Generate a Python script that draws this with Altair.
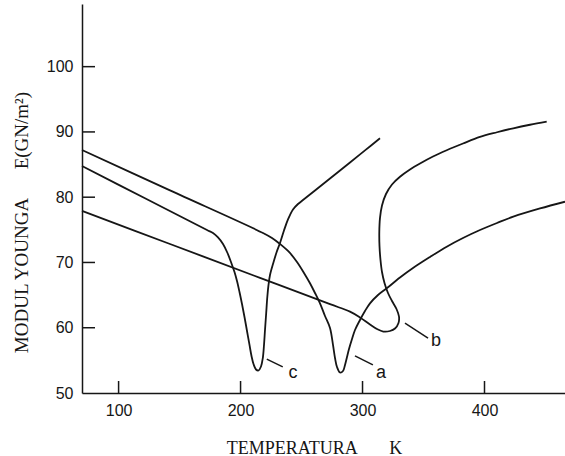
import altair as alt
import pandas as pd

# Young's modulus E (GN/m^2) against temperature (K) for three specimens
a_T = [70.0, 142.15, 218.40, 225.78, 232.33, 239.71, 246.27, 252.01, 256.93, 261.03,
       265.13, 269.23, 273.33, 275.79, 277.43, 279.07, 281.53, 283.99, 285.63, 287.27,
       288.91, 291.12, 293.82, 297.92, 302.02, 306.12, 312.68, 319.81, 330.71, 341.38,
       355.31, 369.01, 382.37, 396.31, 410.25, 423.61, 445.51, 466.0]
a_E = [87.23, 81.04, 74.52, 73.75, 72.83, 71.61, 70.07, 68.39, 66.81, 65.32,
       63.74, 61.80, 59.96, 57.36, 55.36, 53.98, 53.14, 53.37, 54.29, 55.52,
       56.74, 58.12, 59.65, 61.19, 62.56, 63.74, 65.02, 66.04, 67.70, 69.15,
       70.84, 72.42, 73.75, 74.98, 76.05, 77.01, 78.27, 79.31]

b_T = [70.0, 142.15, 215.94, 273.33, 289.73, 297.92, 306.12, 311.86, 317.03, 322.52,
       326.62, 329.49, 329.90, 327.85, 324.16, 320.88, 318.01, 315.96, 314.73, 313.91,
       313.75, 314.32, 315.96, 319.24, 324.16, 330.71, 338.92, 347.12, 357.77, 369.01,
       382.37, 396.31, 410.25, 423.61, 437.30, 450.99]
b_E = [77.89, 72.83, 67.64, 63.61, 62.46, 61.57, 60.50, 59.81, 59.42, 59.50,
       59.88, 60.73, 61.72, 62.87, 64.10, 65.32, 66.86, 68.54, 70.38, 72.52,
       74.67, 76.82, 78.73, 80.49, 81.95, 83.14, 84.25, 85.17, 86.24, 87.20,
       88.23, 89.24, 89.95, 90.56, 91.10, 91.57]

c_T = [70.0, 121.65, 172.48, 177.40, 181.50, 185.60, 189.29, 192.57, 195.03, 197.08,
       199.13, 201.18, 203.23, 205.28, 207.33, 208.97, 210.61, 212.66, 214.71, 216.76,
       218.24, 219.22, 220.04, 221.02, 221.93, 222.91, 224.14, 226.84, 229.47, 232.33,
       235.61, 238.89, 242.99, 247.09, 251.44, 261.03, 273.33, 289.73, 302.02, 314.32]
c_E = [84.78, 79.83, 74.98, 74.52, 73.83, 72.83, 71.45, 69.84, 68.54, 67.16,
       65.48, 63.64, 61.65, 59.50, 57.36, 55.67, 54.44, 53.60, 53.45, 54.06,
       55.36, 57.36, 59.65, 62.26, 64.71, 66.55, 68.08, 69.92, 71.53, 72.98,
       74.90, 76.59, 78.12, 78.96, 79.60, 81.03, 82.87, 85.32, 87.17, 89.03]

# curve letters and their short leader lines
label_text = ["a", "b", "c"]
label_T = [315.1, 360.3, 242.9]
label_E = [53.0, 58.0, 53.0]
leader_T1 = [293.8, 334.8, 221.5]
leader_E1 = [55.7, 60.7, 55.2]
leader_T2 = [308.5, 353.7, 234.6]
leader_E2 = [54.3, 58.4, 54.0]

x_ticks = [100, 200, 300, 400]
y_ticks = [50, 60, 70, 80, 90, 100]
T_MIN, T_MAX = 70, 466
E_MIN, E_MAX = 50, 109.6

rows = []
for name, ts, es in (("a", a_T, a_E), ("b", b_T, b_E), ("c", c_T, c_E)):
    for i, (t, e) in enumerate(zip(ts, es)):
        rows.append({"curve": name, "T": t, "E": e, "i": i})
curves = pd.DataFrame(rows)

labels = pd.DataFrame({"txt": label_text, "T": label_T, "E": label_E})
leaders = pd.DataFrame({"T": leader_T1, "E": leader_E1,
                        "T2": leader_T2, "E2": leader_E2})
xt = pd.DataFrame({"T": x_ticks, "E": [E_MIN] * len(x_ticks)})
yt = pd.DataFrame({"E": y_ticks[1:], "T": [T_MIN] * (len(y_ticks) - 1)})

ink = "#161616"
x_scale = alt.Scale(domain=[T_MIN, T_MAX], nice=False, zero=False)
y_scale = alt.Scale(domain=[E_MIN, E_MAX], nice=False, zero=False)

x_axis = alt.Axis(
    values=x_ticks, ticks=False, grid=False, domainColor=ink, domainWidth=1.5,
    labelFont="Liberation Sans", labelFontSize=16, labelColor=ink, labelPadding=9,
    title="TEMPERATURA" + "\u00a0" * 7 + "K", titleFont="Liberation Serif",
    titleFontSize=18, titleFontWeight="normal", titleColor=ink,
    titleX=232, titleY=60, titleBaseline="alphabetic",
)
y_axis = alt.Axis(
    values=y_ticks, ticks=False, grid=False, domainColor=ink, domainWidth=1.5,
    labelFont="Liberation Sans", labelFontSize=16, labelColor=ink, labelPadding=9,
    title="MODUL YOUNGA" + "\u00a0" * 6 + "E(GN/m²)", titleFont="Liberation Serif",
    titleFontSize=19, titleFontWeight="normal", titleColor=ink,
    titleX=-55, titleY=218, titleBaseline="alphabetic",
)

lines = alt.Chart(curves).mark_line(
    interpolate="catmull-rom", color=ink, strokeWidth=1.8
).encode(
    x=alt.X("T:Q", scale=x_scale, axis=x_axis),
    y=alt.Y("E:Q", scale=y_scale, axis=y_axis),
    detail="curve:N",
    order="i:Q",
)

# tick marks pointing into the plot, anchored on the axis lines
xtick_marks = alt.Chart(xt).mark_tick(
    orient="vertical", size=12, thickness=1.5, color=ink, yOffset=-6, opacity=1
).encode(
    x=alt.X("T:Q", scale=x_scale),
    y=alt.Y("E:Q", scale=y_scale),
)
ytick_marks = alt.Chart(yt).mark_tick(
    orient="horizontal", size=13, thickness=1.5, color=ink, xOffset=6.5, opacity=1
).encode(
    x=alt.X("T:Q", scale=x_scale),
    y=alt.Y("E:Q", scale=y_scale),
)

leader_marks = alt.Chart(leaders).mark_rule(color=ink, strokeWidth=1.5).encode(
    x=alt.X("T:Q", scale=x_scale), y=alt.Y("E:Q", scale=y_scale),
    x2="T2:Q", y2="E2:Q",
)
label_marks = alt.Chart(labels).mark_text(
    font="Liberation Sans", fontSize=18, color=ink, align="center", baseline="middle"
).encode(
    x=alt.X("T:Q", scale=x_scale), y=alt.Y("E:Q", scale=y_scale), text="txt:N",
)

chart = alt.layer(
    lines, xtick_marks, ytick_marks, leader_marks, label_marks
).properties(
    width=483, height=389,
    padding={"left": 82, "top": 4, "right": 0, "bottom": 63},
    autosize="none", background="white",
).configure_view(stroke="transparent")

chart.save("out.html", embed_options={"renderer": "svg", "actions": False})
